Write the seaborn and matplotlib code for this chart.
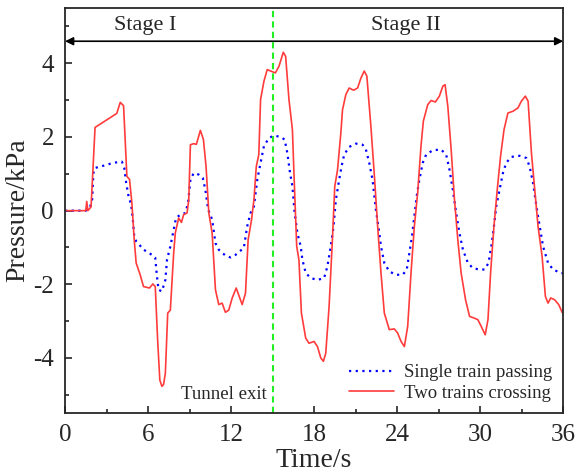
import numpy as np
import pandas as pd
import matplotlib
matplotlib.use("Agg")
import matplotlib.pyplot as plt
import seaborn as sns
from matplotlib.ticker import MultipleLocator

# ─────────────────────────────────────────────
# Data (time in s, pressure in kPa)
# ─────────────────────────────────────────────
t_single = [0.0, 1.5, 1.81, 1.96, 2.05, 2.17, 2.78, 3.5, 4.11, 4.28, 4.42, 4.59, 4.78,
            4.9, 5.0, 5.14, 5.68, 6.28, 6.52, 6.64, 6.76, 7.0, 7.25, 7.37, 7.61, 7.85,
            8.02, 8.33, 8.7, 8.89, 9.06, 9.3, 9.66, 9.95, 10.14, 10.34, 10.63, 10.87,
            11.11, 11.59, 11.96, 12.32, 12.92, 13.16, 13.41, 13.65, 13.89, 14.13, 14.37,
            14.73, 15.1, 15.58, 15.87, 16.06, 16.26, 16.43, 16.59, 16.79, 17.03, 17.15,
            17.39, 17.75, 18.24, 18.72, 18.96, 19.2, 19.4, 19.57, 19.81, 19.98, 20.17,
            20.53, 21.01, 21.5, 21.74, 21.98, 22.22, 22.46, 22.71, 22.83, 23.07, 23.43,
            23.91, 24.4, 24.69, 24.88, 25.07, 25.24, 25.41, 25.6, 25.85, 26.09, 26.57,
            27.17, 27.54, 27.78, 28.02, 28.26, 28.5, 28.75, 29.11, 29.47, 29.83, 30.31,
            30.6, 30.8, 30.99, 31.16, 31.4, 31.64, 31.88, 32.25, 32.85, 33.33, 33.57,
            33.82, 34.06, 34.3, 34.54, 34.9, 35.27, 35.82, 36.0]
p_single = [0.0, 0.0, 0.1, 0.3, 1.02, 1.16, 1.22, 1.3, 1.33, 1.16, 0.75, 0.39, 0.16,
            -0.24, -0.7, -0.83, -1.06, -1.2, -1.28, -1.78, -2.15, -2.19, -1.88, -1.33,
            -0.97, -0.52, -0.2, -0.11, -0.06, 0.21, 0.84, 1.02, 0.98, 0.89, 0.57, 0.03,
            -0.24, -0.88, -1.06, -1.22, -1.27, -1.2, -1.01, -0.43, -0.06, 0.12, 0.84,
            1.3, 1.75, 1.97, 2.04, 2.0, 1.93, 1.57, 1.02, 0.66, -0.06, -0.61, -0.97,
            -1.33, -1.69, -1.83, -1.88, -1.83, -1.51, -0.97, -0.43, 0.3, 0.84, 1.2, 1.52,
            1.73, 1.82, 1.79, 1.66, 1.3, 0.84, 0.03, -0.61, -0.97, -1.42, -1.65, -1.74,
            -1.74, -1.6, -1.15, -0.7, -0.15, 0.39, 0.84, 1.3, 1.52, 1.64, 1.66, 1.52,
            1.11, 0.57, -0.06, -0.61, -1.06, -1.42, -1.56, -1.59, -1.6, -1.42, -0.97,
            -0.43, 0.12, 0.57, 1.02, 1.3, 1.46, 1.49, 1.43, 1.2, 0.75, 0.12, -0.43,
            -0.97, -1.42, -1.6, -1.69, -1.7]

t_two = [0.0, 1.5, 1.57, 1.65, 1.88, 2.17, 3.74, 3.99, 4.23, 4.47, 4.66, 4.83, 5.0,
         5.14, 5.43, 5.67, 6.1, 6.35, 6.52, 6.69, 6.85, 7.0, 7.12, 7.25, 7.42, 7.61,
         7.85, 7.97, 8.21, 8.41, 8.57, 8.82, 8.94, 9.06, 9.3, 9.49, 9.78, 10.0, 10.19,
         10.39, 10.63, 10.87, 11.11, 11.35, 11.59, 11.83, 12.08, 12.37, 12.56, 12.8,
         13.04, 13.23, 13.48, 13.65, 13.82, 14.0, 14.13, 14.37, 14.61, 14.86, 15.2,
         15.46, 15.77, 15.94, 16.18, 16.43, 16.54, 16.74, 16.9, 17.08, 17.39, 17.63,
         17.99, 18.24, 18.48, 18.67, 18.84, 19.08, 19.32, 19.49, 19.69, 19.93, 20.05,
         20.29, 20.53, 20.85, 21.14, 21.38, 21.62, 21.81, 22.1, 22.34, 22.59, 22.83,
         23.07, 23.43, 23.79, 24.03, 24.28, 24.52, 24.76, 25.0, 25.24, 25.48, 25.72,
         25.89, 26.21, 26.45, 26.76, 27.05, 27.3, 27.46, 27.66, 27.9, 28.14, 28.38,
         28.62, 28.94, 29.23, 29.59, 29.83, 30.07, 30.36, 30.56, 30.75, 30.99, 31.23,
         31.47, 31.72, 32.0, 32.37, 32.73, 32.97, 33.26, 33.46, 33.7, 33.94, 34.18,
         34.47, 34.71, 34.9, 35.09, 35.38, 35.67, 35.92, 36.0]
p_two = [0.0, 0.0, 0.25, 0.0, 0.1, 2.26, 2.64, 2.94, 2.85, 0.93, 0.85, 0.21, -0.79,
         -1.42, -1.74, -2.06, -2.1, -1.99, -2.06, -3.5, -4.6, -4.77, -4.72, -4.41,
         -2.78, -2.7, -1.15, -0.6, -0.2, -0.32, -0.11, -0.06, 0.3, 1.79, 1.82, 1.8,
         2.18, 1.93, 1.2, -0.06, -0.61, -2.15, -2.55, -2.51, -2.76, -2.7, -2.37, -2.1,
         -2.3, -2.55, -2.24, -0.79, -0.24, 0.3, 1.2, 1.52, 3.02, 3.51, 3.83, 3.79,
         3.74, 3.92, 4.3, 4.19, 3.02, 2.2, 1.02, -0.97, -1.33, -2.78, -3.46, -3.6,
         -3.55, -3.69, -4.0, -4.09, -3.87, -2.6, -0.79, 0.66, 1.11, 2.11, 2.74, 3.15,
         3.33, 3.27, 3.33, 3.6, 3.79, 3.65, 2.29, 1.02, -0.43, -1.69, -2.78, -3.23,
         -3.21, -3.32, -3.55, -3.69, -3.14, -1.69, -0.43, 0.48, 1.75, 2.43, 2.88,
         2.99, 2.95, 3.11, 3.38, 3.42, 2.83, 1.66, 0.3, -0.79, -1.69, -2.42, -2.87,
         -2.92, -2.96, -3.14, -3.37, -2.96, -1.69, -0.43, 0.57, 1.48, 2.2, 2.65, 2.7,
         2.79, 2.97, 3.11, 2.97, 1.57, 0.57, -0.43, -1.24, -2.33, -2.51, -2.37, -2.42,
         -2.55, -2.76, -2.8]

TUNNEL_EXIT = 15.0
ARROW_Y = 4.6
XTICKS = [0, 6, 12, 18, 24, 30, 36]
YTICKS = [-4, -2, 0, 2, 4]

df_single = pd.DataFrame({"t": t_single, "p": p_single})
df_two = pd.DataFrame({"t": t_two, "p": p_two})

# ─────────────────────────────────────────────
# Plot
# ─────────────────────────────────────────────
sns.set_theme(style="ticks")
plt.rcParams["font.family"] = ["Liberation Serif", "DejaVu Serif"]
plt.rcParams["axes.unicode_minus"] = False

fig = plt.figure(figsize=(5.78, 4.75), dpi=100)
ax = fig.add_axes([0.1125, 0.13, 0.862, 0.853])

sns.lineplot(data=df_single, x="t", y="p", ax=ax, color="#0000ff",
             linestyle=(0, (1, 2)), linewidth=1.6, label="Single train passing",
             sort=False, estimator=None)
sns.lineplot(data=df_two, x="t", y="p", ax=ax, color="#ff3b3b",
             linewidth=1.2, label="Two trains crossing",
             sort=False, estimator=None)

ax.axvline(TUNNEL_EXIT, color="#22ee22", linestyle=(0, (3, 2)), linewidth=1.5)

ax.annotate("", xy=(0, ARROW_Y), xytext=(36, ARROW_Y),
            arrowprops=dict(arrowstyle="<|-|>", color="black", lw=1.2,
                            shrinkA=0, shrinkB=0, mutation_scale=12))
ax.text(5.8, 5.03, "Stage I", ha="center", va="center", fontsize=16)
ax.text(24.6, 5.03, "Stage II", ha="center", va="center", fontsize=16)
ax.text(14.6, -4.98, "Tunnel exit", ha="right", va="center", fontsize=13.5)

ax.set_xlim(0, 36)
ax.set_ylim(-5.5, 5.5)
ax.set_xticks(XTICKS)
ax.set_yticks(YTICKS)
ax.xaxis.set_minor_locator(MultipleLocator(3))
ax.yaxis.set_minor_locator(MultipleLocator(1))
ax.tick_params(which="both", direction="in", width=1.2, labelsize=18)
ax.tick_params(which="major", length=5, pad=8)
ax.tick_params(which="minor", length=3)
for s in ax.spines.values():
    s.set_linewidth(1.3)

ax.set_xlabel("Time/s", fontsize=20, labelpad=1)
ax.set_ylabel("Pressure/kPa", fontsize=20, labelpad=2)

ax.legend(loc="lower right", frameon=False, fontsize=13.5, handlelength=2.4,
          borderaxespad=0.2, labelspacing=0.2, handletextpad=0.5)

fig.savefig("out.png", dpi=100)
